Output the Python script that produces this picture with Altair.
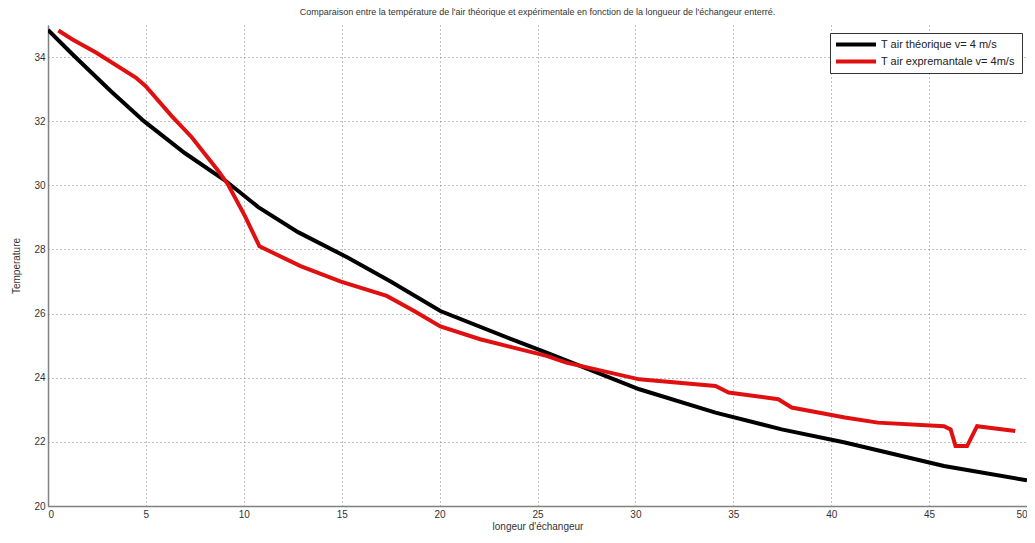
import altair as alt
import pandas as pd

# Theoretical air temperature (black)
theo_x = [0, 1.26, 3.2, 4.9, 7.0, 9.05, 10.74, 12.77, 15.3, 17.5, 20.04, 23.93, 25.46,
          26.98, 30.2, 34.09, 37.47, 40.7, 45.76, 50]
theo_y = [34.85, 34.08, 32.94, 32.0, 31.0, 30.15, 29.32, 28.54, 27.75, 27.0, 26.08, 25.14, 24.78,
          24.42, 23.64, 22.91, 22.39, 21.98, 21.25, 20.8]

# Experimental air temperature (red)
exp_x = [0.53, 1.25, 2.45, 4.48, 4.98, 6.32, 7.34, 8.7, 9.2, 10.06, 10.8, 12.9, 14.96, 17.3,
         18.7, 20.04, 22.07, 23.77, 25.46, 26.47, 30.2, 34.09, 34.76, 37.3, 37.98, 40.7,
         42.38, 45.76, 46.1, 46.35, 46.94, 47.45, 49.4]
exp_y = [34.83, 34.55, 34.14, 33.36, 33.1, 32.16, 31.5, 30.45, 30.02, 29.04, 28.1, 27.48, 27.0,
         26.55, 26.08, 25.6, 25.2, 24.94, 24.68, 24.47, 23.95, 23.74, 23.54, 23.33, 23.07, 22.76,
         22.6, 22.49, 22.39, 21.87, 21.87, 22.49, 22.34]

series_names = ["T  air théorique v= 4 m/s", "T  air expremantale v= 4m/s"]
series_colors = ["#000000", "#e01010"]

x_ticks = [0, 5, 10, 15, 20, 25, 30, 35, 40, 45, 50]
y_ticks = [20, 22, 24, 26, 28, 30, 32, 34]

rows = []
for i, (x, y) in enumerate(zip(theo_x, theo_y)):
    rows.append({"x": x, "y": y, "serie": series_names[0], "o": i})
for i, (x, y) in enumerate(zip(exp_x, exp_y)):
    rows.append({"x": x, "y": y, "serie": series_names[1], "o": i})
df = pd.DataFrame(rows)

FONT = "Liberation Sans Narrow, Liberation Sans, Arial, sans-serif"

chart = alt.Chart(df).mark_line(strokeWidth=4, clip=True).encode(
    x=alt.X("x:Q", scale=alt.Scale(domain=[0, 50], nice=False),
            axis=alt.Axis(values=x_ticks, title="longeur d'échangeur", titlePadding=2)),
    y=alt.Y("y:Q", scale=alt.Scale(domain=[20, 35], nice=False),
            axis=alt.Axis(values=y_ticks, title="Temperature", titlePadding=12)),
    color=alt.Color("serie:N", scale=alt.Scale(domain=series_names, range=series_colors),
                    legend=alt.Legend(title=None, orient="none", legendX=782, legendY=8,
                                      symbolType="stroke", symbolSize=1600,
                                      symbolStrokeWidth=4, labelFontSize=11,
                                      labelFont=FONT, labelColor="#222",
                                      fillColor="white", strokeColor="#333",
                                      padding=4, rowPadding=2, clipHeight=15,
                                      labelOffset=3)),
    order="o:Q",
    detail="serie:N",
).properties(
    width=979,
    height=481,
    title=alt.TitleParams("Comparaison entre la température de l'air théorique et expérimentale en fonction de la longueur de l'échangeur enterré.",
                          fontSize=9, font=FONT, fontWeight="normal", color="#333", offset=8),
    autosize=alt.AutoSizeParams(type="none"),
    padding={"left": 40, "top": 17, "right": 0, "bottom": 29},
).configure_view(strokeWidth=0).configure_axis(
    labelFont=FONT, titleFont=FONT, labelFontSize=10, titleFontSize=10,
    titleFontWeight="normal", labelColor="#333", titleColor="#333",
    domainColor="#808080", domainWidth=1.5, tickSize=0, labelPadding=3,
    gridColor="#777", gridDash=[1, 3], gridWidth=1, gridOpacity=0.9,
)

chart.save("out.html", embed_options={"renderer": "svg", "actions": False})
